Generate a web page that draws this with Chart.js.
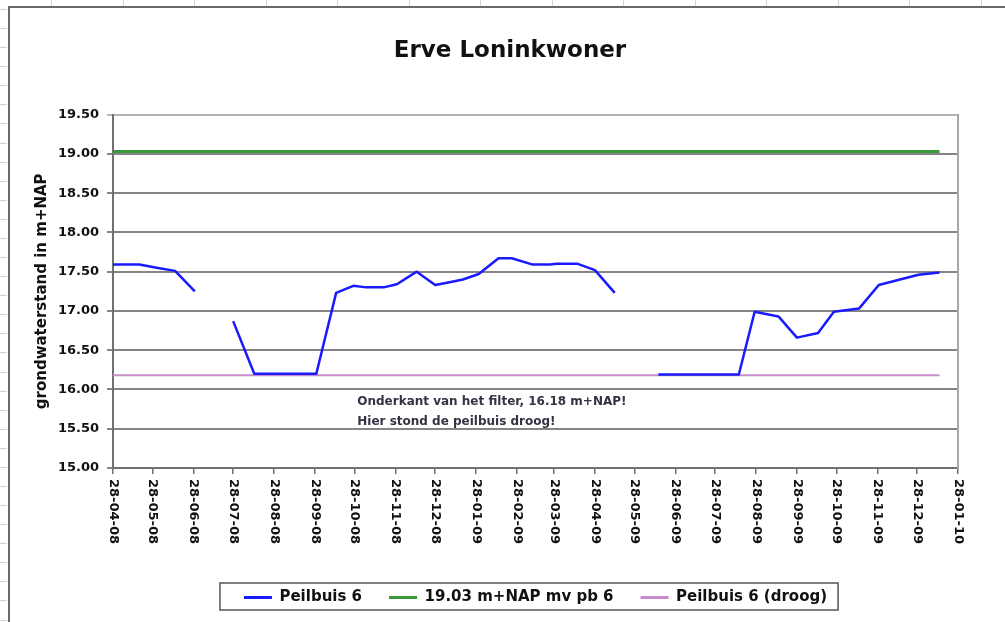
<!DOCTYPE html>
<html>
<head>
<meta charset="utf-8">
<title>Erve Loninkwoner</title>
<script src="https://cdn.jsdelivr.net/npm/chart.js@4.4.1/dist/chart.umd.min.js"></script>
<style>
  html, body { margin: 0; padding: 0; background: #fff; }
  #wrap { position: relative; width: 1005px; height: 622px; }
</style>
</head>
<body>
<div id="wrap"><canvas id="peilChart" width="1005" height="622"></canvas></div>
<script>
// Peilbuis 6: gemeten grondwaterstand (m+NAP), null = geen meting (lijn onderbroken)
const measureDates = [
  '2008-04-28', '2008-05-18', '2008-05-31', '2008-06-14', '2008-06-29',
  '2008-07-13',
  '2008-07-28', '2008-08-13', '2008-09-29', '2008-10-14', '2008-10-27',
  '2008-11-06', '2008-11-19', '2008-11-29', '2008-12-14', '2008-12-28',
  '2009-01-06', '2009-01-18', '2009-01-30', '2009-02-14', '2009-02-24',
  '2009-03-12', '2009-03-25', '2009-03-30', '2009-04-15', '2009-04-28',
  '2009-05-13',
  '2009-05-29',
  '2009-06-15', '2009-08-15', '2009-08-27', '2009-09-14', '2009-09-28',
  '2009-10-14', '2009-10-26', '2009-11-14', '2009-11-29', '2009-12-29',
  '2010-01-14'
];
const levels = [
  17.59, 17.59, 17.55, 17.51, 17.25,
  null,
  16.87, 16.20, 16.20, 17.23, 17.32,
  17.30, 17.30, 17.34, 17.50, 17.33,
  17.36, 17.40, 17.47, 17.67, 17.67,
  17.59, 17.59, 17.60, 17.60, 17.52,
  17.23,
  null,
  16.19, 16.19, 16.99, 16.93, 16.66,
  16.72, 16.99, 17.03, 17.33, 17.46,
  17.49
];

// maaiveld bij peilbuis 6
const mvDates = ['2008-04-28', '2010-01-14'];
const mvLevels = [19.03, 19.03];

// onderkant filter: hier staat de peilbuis droog
const dryDates = ['2008-04-28', '2010-01-14'];
const dryLevels = [16.18, 16.18];

const tickDates = [
  '2008-04-28', '2008-05-28', '2008-06-28', '2008-07-28', '2008-08-28',
  '2008-09-28', '2008-10-28', '2008-11-28', '2008-12-28', '2009-01-28',
  '2009-02-28', '2009-03-28', '2009-04-28', '2009-05-28', '2009-06-28',
  '2009-07-28', '2009-08-28', '2009-09-28', '2009-10-28', '2009-11-28',
  '2009-12-28', '2010-01-28'
];
const tickLabels = [
  '28-04-08', '28-05-08', '28-06-08', '28-07-08', '28-08-08',
  '28-09-08', '28-10-08', '28-11-08', '28-12-08', '28-01-09',
  '28-02-09', '28-03-09', '28-04-09', '28-05-09', '28-06-09',
  '28-07-09', '28-08-09', '28-09-09', '28-10-09', '28-11-09',
  '28-12-09', '28-01-10'
];

const yMin = 15.0;
const yMax = 19.5;
const yStep = 0.5;

const noteLines = ['Onderkant van het filter, 16.18 m+NAP!', 'Hier stond de peilbuis droog!'];
const noteDate = '2008-10-30';
const noteLevel = 15.84;

// dagen sinds de eerste meting, zodat de x-as een gewone lineaire as kan zijn
const startDate = Date.UTC(2008, 3, 28);
function dayOf(s) {
  const [y, m, d] = s.split('-').map(Number);
  return (Date.UTC(y, m - 1, d) - startDate) / 86400000;
}
function toPoints(dates, values) {
  return dates.map((d, i) => ({ x: dayOf(d), y: values[i] }));
}

const FONT = '"DejaVu Sans", "Liberation Sans", sans-serif';
Chart.defaults.font.family = FONT;
Chart.defaults.color = '#111';

// spreadsheet-achtergrond met randlijnen
const sheetFrame = {
  id: 'sheetFrame',
  beforeDraw(chart) {
    const { ctx, width, height } = chart;
    ctx.save();
    ctx.fillStyle = '#fff';
    ctx.fillRect(0, 0, width, height);
    ctx.strokeStyle = '#d2d2d2';
    ctx.lineWidth = 1;
    ctx.beginPath();
    for (let y = 9; y < height; y += 19.08) {
      ctx.moveTo(0, Math.round(y) + 0.5);
      ctx.lineTo(7, Math.round(y) + 0.5);
    }
    for (let x = 51; x < width; x += 71.5) {
      ctx.moveTo(Math.round(x) + 0.5, 0);
      ctx.lineTo(Math.round(x) + 0.5, 6);
    }
    ctx.stroke();
    ctx.strokeStyle = '#6a6a6a';
    ctx.lineWidth = 2;
    ctx.beginPath();
    ctx.moveTo(9, height);
    ctx.lineTo(9, 7);
    ctx.lineTo(width, 7);
    ctx.stroke();
    ctx.restore();
  }
};

// verticale datumlabels, opmerking bij de droogval en kader om de legenda
const extras = {
  id: 'extras',
  afterDraw(chart) {
    const { ctx } = chart;
    const xs = chart.scales.x;
    const ys = chart.scales.y;

    ctx.save();
    ctx.fillStyle = '#111';
    ctx.font = 'bold 13px ' + FONT;
    ctx.textAlign = 'left';
    ctx.textBaseline = 'middle';
    xs.ticks.forEach((t, i) => {
      ctx.save();
      ctx.translate(xs.getPixelForValue(t.value), xs.top + 11);
      ctx.rotate(Math.PI / 2);
      ctx.fillText(tickLabels[i], 0, 0);
      ctx.restore();
    });

    ctx.fillStyle = '#333344';
    ctx.font = 'bold 12px ' + FONT;
    const nx = xs.getPixelForValue(dayOf(noteDate));
    const ny = ys.getPixelForValue(noteLevel);
    noteLines.forEach((line, i) => ctx.fillText(line, nx, ny + i * 20));

    const boxes = chart.legend.legendHitBoxes;
    if (boxes && boxes.length) {
      const left = Math.min(...boxes.map(b => b.left)) - 24;
      const right = Math.max(...boxes.map(b => b.left + b.width)) + 11;
      const top = boxes[0].top - 7;
      const bottom = boxes[0].top + boxes[0].height + 5;
      ctx.strokeStyle = '#555';
      ctx.lineWidth = 1.5;
      ctx.strokeRect(left, top, right - left, bottom - top);
    }
    ctx.restore();
  }
};

const chart = new Chart(document.getElementById('peilChart'), {
  type: 'line',
  data: {
    datasets: [{
      label: 'Peilbuis 6',
      data: toPoints(measureDates, levels),
      borderColor: '#1a1aff',
      backgroundColor: '#1a1aff',
      borderWidth: 2.5,
      spanGaps: false
    }, {
      label: '19.03 m+NAP mv pb 6',
      data: toPoints(mvDates, mvLevels),
      borderColor: '#3a9a3a',
      backgroundColor: '#3a9a3a',
      borderWidth: 3
    }, {
      label: 'Peilbuis 6 (droog)',
      data: toPoints(dryDates, dryLevels),
      borderColor: '#c88ccc',
      backgroundColor: '#c88ccc',
      borderWidth: 2
    }]
  },
  options: {
    responsive: false,
    animation: false,
    devicePixelRatio: 1,
    elements: {
      point: { radius: 0, hoverRadius: 0 },
      line: { tension: 0, borderJoinStyle: 'round', fill: false }
    },
    layout: { padding: { top: 10, left: 15, right: 0, bottom: 7 } },
    scales: {
      x: {
        type: 'linear',
        min: 0,
        max: dayOf(tickDates[tickDates.length - 1]),
        afterBuildTicks: axis => {
          axis.ticks = tickDates.map(d => ({ value: dayOf(d) }));
        },
        afterFit: axis => { axis.height = 95; },
        grid: { drawOnChartArea: false, drawTicks: true, tickLength: 6, color: '#707070', lineWidth: 1.5 },
        border: { display: true, color: '#707070', width: 2 },
        ticks: {
          autoSkip: false,
          minRotation: 90,
          maxRotation: 90,
          color: 'rgba(0,0,0,0)',
          callback: (v, i) => tickLabels[i]
        }
      },
      y: {
        position: 'left',
        min: yMin,
        max: yMax,
        afterFit: axis => { axis.width = 98; },
        grid: {
          color: c => (c.tick && c.tick.value === yMax ? '#b4b4b4' : '#858585'),
          lineWidth: 2,
          tickLength: 6
        },
        border: { display: true, color: '#707070', width: 2 },
        ticks: {
          stepSize: yStep,
          padding: 8,
          color: '#111',
          font: { size: 13, weight: 'bold' },
          callback: v => v.toFixed(2)
        },
        title: {
          display: true,
          text: 'grondwaterstand in m+NAP',
          color: '#111',
          font: { size: 15, weight: 'bold' },
          padding: { top: 18, bottom: 0 }
        }
      },
      right: {
        type: 'linear',
        position: 'right',
        afterFit: axis => { axis.width = 47; },
        grid: { drawOnChartArea: false, drawTicks: false },
        border: { display: true, color: '#a8a8a8', width: 2 },
        ticks: { display: false }
      }
    },
    plugins: {
      title: {
        display: true,
        text: 'Erve Loninkwoner',
        color: '#111',
        font: { size: 23, weight: 'bold' },
        padding: { top: 27, bottom: 50 }
      },
      legend: {
        position: 'bottom',
        fullSize: false,
        labels: {
          boxWidth: 28,
          boxHeight: 3,
          padding: 27,
          color: '#111',
          font: { size: 15, weight: 'bold' },
          generateLabels: c => {
            const items = Chart.defaults.plugins.legend.labels.generateLabels(c);
            items.forEach(it => { it.fillStyle = it.strokeStyle; it.lineWidth = 0; });
            return items;
          }
        }
      },
      tooltip: { enabled: false }
    }
  },
  plugins: [sheetFrame, extras]
});
</script>
</body>
</html>
